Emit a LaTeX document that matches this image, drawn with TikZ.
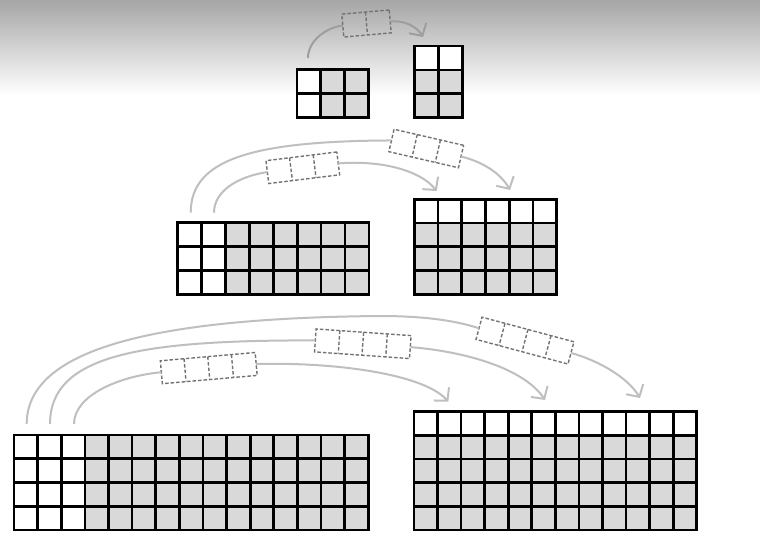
\documentclass[tikz,border=0pt]{standalone}
\usetikzlibrary{arrows.meta,calc}
\tikzset{
  gridline/.style={line width=2.7pt, draw=black},
  cellfill/.style={fill=black!15},
  flow/.style={draw=black!25, line width=2pt},
  flowtip/.style={-{Straight Barb[length=9pt,width=20pt,line width=2pt]}},
  buffer/.style={draw=black!55, dash pattern=on 3.5pt off 2pt, line width=1.4pt, minimum height=23pt, inner sep=0pt, outer sep=0pt},
  bufferdiv/.style={draw=black!55, dash pattern=on 3.5pt off 2pt, line width=1.4pt},
}
% name, x0, ytop, x1, ybottom, cols, rows, white cols, white rows
\newcommand{\cellgrid}[9]{%
  \pgfmathsetmacro\gw{#4-#2}\pgfmathsetmacro\gh{#5-#3}%
  \pgfmathsetmacro\cw{\gw/#6}\pgfmathsetmacro\ch{\gh/#7}%
  \fill[cellfill] (#2,#3) rectangle (#4,#5);
  \ifnum#8>0 \fill[white] (#2,#3) rectangle ({#2+#8*\cw},#5);\fi
  \ifnum#9>0 \fill[white] (#2,#3) rectangle (#4,{#3+#9*\ch});\fi
  \pgfmathtruncatemacro\nc{#6-1}\pgfmathtruncatemacro\nr{#7-1}%
  \foreach \i in {1,...,\nc} \draw[gridline] ({#2+\i*\cw},#3) -- ({#2+\i*\cw},#5);
  \foreach \j in {1,...,\nr} \draw[gridline] (#2,{#3+\j*\ch}) -- (#4,{#3+\j*\ch});
  \node[gridline, draw, line width=2.9pt, anchor=north west, inner sep=0pt, outer sep=0pt,
        minimum width=\gw pt, minimum height=\gh pt] (#1) at (#2,#3) {};
}
% name, cx, cy, cells, angle
\newcommand{\bufferbox}[5]{%
  \node[buffer, minimum width=#4*23.8pt, rotate=#5] (#1) at (#2,#3) {};
  \pgfmathtruncatemacro\nb{#4-1}%
  \foreach \k in {1,...,\nb}
    \draw[bufferdiv] ($(#1.north west)!\k/#4!(#1.north east)$) -- ($(#1.south west)!\k/#4!(#1.south east)$);
}
\begin{document}
\begin{tikzpicture}[x=1pt,y=-1pt]
\useasboundingbox (0,0) rectangle (760,543);
\fill[white] (0,0) rectangle (760,543);
\shade[top color=black!35, bottom color=white] (0,0) rectangle (760,95);

% grids
\cellgrid{gA}{297}{69.5}{368.3}{117.7}{3}{2}{1}{0}
\cellgrid{gB}{414.3}{46}{462.3}{117.7}{2}{3}{0}{1}
\cellgrid{gC}{177.5}{222.7}{369}{294.3}{8}{3}{2}{0}
\cellgrid{gD}{414.3}{199.3}{556.7}{294.3}{6}{4}{0}{1}
\cellgrid{gE}{14}{435}{368.3}{530}{15}{4}{3}{0}
\cellgrid{gF}{414}{411.7}{696.7}{530}{12}{5}{0}{1}

% buffers
\bufferbox{bT}{366.5}{23.5}{2}{5}
\bufferbox{bM1}{426.25}{148.5}{3}{-13}
\bufferbox{bM2}{302.8}{167.75}{3}{7}
\bufferbox{bB1}{525}{340.6}{4}{-15}
\bufferbox{bB2}{362.8}{343.75}{4}{-4}
\bufferbox{bB3}{208.75}{368.1}{4}{5}

% start / end points
\coordinate (sT) at (308,58);     \coordinate (eT) at (423,37);
\coordinate (sM1) at (190.7,212.7); \coordinate (eM1) at (510,190);
\coordinate (sM2) at (214,212.7);   \coordinate (eM2) at (436.7,191);
\coordinate (sB1) at (26.7,424);  \coordinate (eB1) at (640,398);
\coordinate (sB2) at (50,424);    \coordinate (eB2) at (545,400);
\coordinate (sB3) at (74,424);    \coordinate (eB3) at (448.3,401.7);

% connectors
\draw[flow, draw=black!38] (sT) .. controls (308,40) and (327.6,26.9) .. (bT.west);
\draw[flow, draw=black!38, flowtip] (bT.east) .. controls (405,20) and (417,27) .. (eT);

\draw[flow] (sM1) .. controls (190.7,160) and (250,141) .. (bM1.west);
\draw[flow,flowtip] (bM1.east) .. controls (480,161) and (500,172) .. (eM1);

\draw[flow] (sM2) .. controls (214,190) and (240,176) .. (bM2.west);
\draw[flow,flowtip] (bM2.east) .. controls (380,160) and (420,170) .. (eM2);

\draw[flow] (sB1) .. controls (26.7,350) and (150,318) .. (380,316) .. controls (430,316) and (460,322) .. (bB1.west);
\draw[flow,flowtip] (bB1.east) .. controls (600,361) and (628,378) .. (eB1);

\draw[flow] (sB2) .. controls (50,355) and (140,340) .. (bB2.west);
\draw[flow,flowtip] (bB2.east) .. controls (470,352) and (525,370) .. (eB2);

\draw[flow] (sB3) .. controls (74,395) and (120,376) .. (bB3.west);
\draw[flow,flowtip] (bB3.east) .. controls (340,362) and (425,375) .. (eB3);
\end{tikzpicture}
\end{document}
